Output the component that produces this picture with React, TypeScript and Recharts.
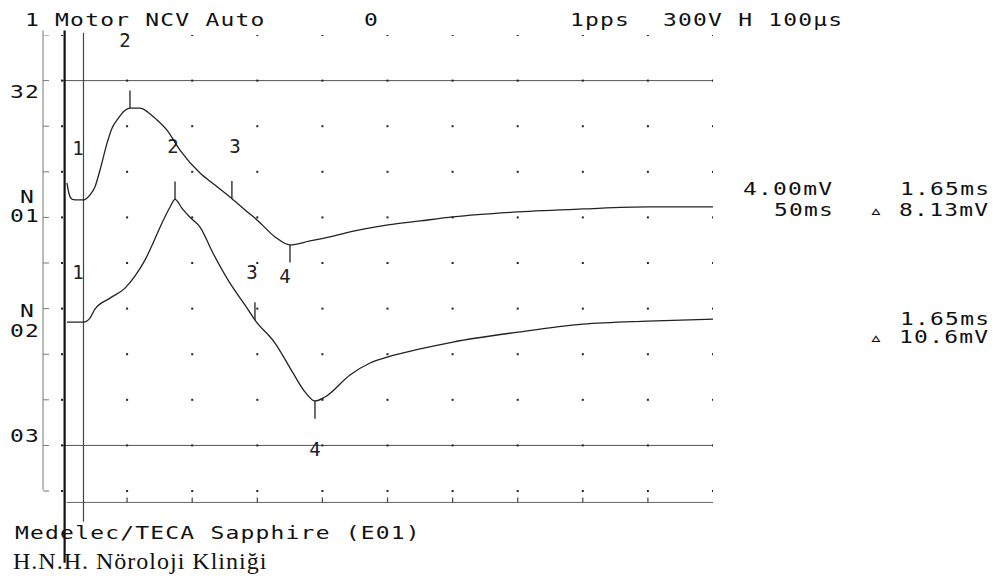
import React from "react";
import {
  ComposedChart,
  Line,
  Scatter,
  XAxis,
  YAxis,
  ReferenceLine,
  ReferenceDot,
} from "recharts";

// time in ms, amplitude in mV relative to each trace's baseline
const trace1Time = [
  0.38, 0.55, 0.8, 1.2, 1.65, 2.15, 2.53, 2.92, 3.46, 3.84, 4.22, 4.76, 5.22,
  5.99, 6.6, 7.14, 8.06, 9.06, 10.6, 11.75, 12.9, 14.06, 14.98, 16.36, 17.51,
  19.05, 20.58, 22.12, 25.04, 27.5, 30.03, 35.02, 40.0, 45.0, 50.0,
];
const trace1Amp = [
  1.5, 0.5, 0.05, 0, 0, 0.44, 1.14, 2.63, 4.99, 6.3, 7.0, 7.79, 8.05, 8.05, 7.7,
  7.18, 6.13, 4.38, 2.36, 1.31, 0.26, -0.88, -1.75, -3.24, -3.94, -3.59, -3.24,
  -2.8, -2.19, -1.84, -1.49, -1.05, -0.79, -0.61, -0.61,
];
const trace2Time = [
  0.38, 1.0, 1.65, 2.15, 2.53, 3.69, 4.84, 5.6, 6.37, 6.99, 7.53, 8.29, 8.68,
  9.22, 9.83, 10.6, 11.6, 12.9, 14.06, 14.82, 16.36, 17.74, 18.66, 19.43, 20.2,
  22.12, 23.66, 25.04, 27.5, 30.03, 35.02, 40.0, 45.0, 50.0,
];
const trace2Amp = [
  0, 0, 0, 0.35, 1.14, 2.1, 2.98, 4.03, 5.43, 6.92, 8.32, 10.07, 10.77, 9.98,
  9.19, 8.32, 6.04, 3.41, 1.49, 0.18, -1.84, -4.46, -6.13, -6.92, -6.57, -4.64,
  -3.59, -3.06, -2.36, -1.75, -0.88, -0.18, 0.09, 0.26,
];

// display offsets of the two traces (mV on the 4 mV/div screen)
const trace1Base = 25.53;
const trace2Base = 14.82;

// markers 1..4
const markerNames = ["1", "2", "3", "4"];
const trace1MarkerT = [1.65, 5.22, 13.05, 17.51];
const trace1MarkerDir = [0, 1, 1, -1];
const trace1LabelT = [1.23, 4.84, 13.29, 17.13];
const trace1LabelV = [30.1, 39.5, 30.2, 18.8];
const trace2MarkerT = [1.65, 8.68, 14.82, 19.43];
const trace2MarkerDir = [0, 1, 1, -1];
const trace2LabelT = [1.23, 8.53, 14.59, 19.43];
const trace2LabelV = [19.2, 30.2, 19.2, 3.7];

// screen graticule: 5 ms x 4 mV divisions
const gridRows = [0, 4, 8, 12, 16, 20, 24, 28, 32, 36, 40];
const gridCols = [0, 5, 10, 15, 20, 25, 30, 35, 40, 45, 50];
const axisTicks = [5, 10, 15, 20, 25, 30, 35, 40, 45];
const X_MIN = -1.46;
const Y_MIN = -1.05;
const AXIS_V = -1.0;

const MONO = "'DejaVu Sans Mono', monospace";
const INK = "#222";

function valueAt(times: number[], amps: number[], t: number) {
  for (let i = 1; i < times.length; i++) {
    if (t <= times[i]) {
      const f = (t - times[i - 1]) / (times[i] - times[i - 1]);
      return amps[i - 1] + f * (amps[i] - amps[i - 1]);
    }
  }
  return amps[amps.length - 1];
}

const toRows = (times: number[], amps: number[], base: number) =>
  times.map((t, i) => ({ t, v: amps[i] + base }));

function Txt({
  x,
  y,
  children,
}: {
  x: number;
  y: number;
  children: React.ReactNode;
}) {
  return (
    <div
      style={{
        position: "absolute",
        left: x,
        top: y - 7,
        fontFamily: MONO,
        fontSize: 17,
        lineHeight: "14px",
        letterSpacing: 0.9,
        color: "#111",
        whiteSpace: "pre",
        transform: "scaleX(1.35)",
        transformOrigin: "left center",
      }}
    >
      {children}
    </div>
  );
}

function markerElements(
  key: string,
  times: number[],
  amps: number[],
  base: number,
  markerT: number[],
  dir: number[],
  labelT: number[],
  labelV: number[]
) {
  const out: React.ReactNode[] = [];
  markerT.forEach((t, i) => {
    if (dir[i] !== 0) {
      const v = valueAt(times, amps, t) + base;
      out.push(
        <ReferenceLine
          key={`${key}-tick-${i}`}
          segment={[
            { x: t, y: v },
            { x: t, y: v + dir[i] * 1.55 },
          ]}
          stroke={INK}
          strokeWidth={1.3}
        />
      );
    }
    out.push(
      <ReferenceDot
        key={`${key}-lbl-${i}`}
        x={labelT[i]}
        y={labelV[i]}
        r={1}
        fill="none"
        stroke="none"
        label={{
          value: markerNames[i],
          position: "center",
          fill: INK,
          fontSize: 19,
          fontFamily: MONO,
        }}
      />
    );
  });
  return out;
}

const gridDot = (p: any) => (
  <rect x={p.cx - 1} y={p.cy - 1} width={2} height={2} fill={INK} />
);
const leftTick = (p: any) => (
  <line
    x1={p.cx}
    y1={p.cy}
    x2={p.cx + 6}
    y2={p.cy}
    stroke="#777"
    strokeWidth={1}
  />
);
const bottomTick = (p: any) => (
  <line
    x1={p.cx}
    y1={p.cy}
    x2={p.cx}
    y2={p.cy - 5}
    stroke="#444"
    strokeWidth={1.2}
  />
);

export default function App() {
  const t1 = toRows(trace1Time, trace1Amp, trace1Base);
  const t2 = toRows(trace2Time, trace2Amp, trace2Base);
  const dots = gridRows.flatMap((v) => gridCols.map((t) => ({ t, v })));
  const lticks = gridRows.map((v) => ({ t: X_MIN, v }));
  const bticks = axisTicks.map((t) => ({ t, v: AXIS_V }));

  return (
    <div
      style={{
        position: "absolute",
        left: 0,
        top: 0,
        width: 1001,
        height: 579,
        background: "#fff",
        overflow: "hidden",
      }}
    >
      <ComposedChart
        width={1001}
        height={579}
        margin={{ top: 35, right: 288, bottom: 76, left: 43 }}
      >
        <XAxis
          type="number"
          dataKey="t"
          domain={[X_MIN, 50]}
          allowDataOverflow
          hide
        />
        <YAxis
          type="number"
          dataKey="v"
          domain={[Y_MIN, 40]}
          allowDataOverflow
          hide
        />
        <Scatter
          data={dots}
          dataKey="v"
          shape={gridDot}
          isAnimationActive={false}
        />
        <Scatter
          data={lticks}
          dataKey="v"
          shape={leftTick}
          isAnimationActive={false}
        />
        <Scatter
          data={bticks}
          dataKey="v"
          shape={bottomTick}
          isAnimationActive={false}
        />
        <ReferenceLine
          segment={[
            { x: X_MIN, y: 40.4 },
            { x: X_MIN, y: 0.1 },
          ]}
          stroke="#777"
          ifOverflow="visible"
        />
        <ReferenceLine
          segment={[
            { x: 0, y: 36 },
            { x: 50, y: 36 },
          ]}
          stroke="#555"
        />
        <ReferenceLine
          segment={[
            { x: 0, y: 4 },
            { x: 50, y: 4 },
          ]}
          stroke="#555"
        />
        <ReferenceLine
          segment={[
            { x: 0.35, y: AXIS_V },
            { x: 50, y: AXIS_V },
          ]}
          stroke="#666"
          ifOverflow="visible"
        />
        <ReferenceLine
          segment={[
            { x: 0.2, y: 40.4 },
            { x: 0.2, y: -6.3 },
          ]}
          stroke="#111"
          strokeWidth={2.2}
          ifOverflow="visible"
        />
        <ReferenceLine
          segment={[
            { x: 1.65, y: 40.2 },
            { x: 1.65, y: -2.7 },
          ]}
          stroke="#444"
          strokeWidth={1.2}
          ifOverflow="visible"
        />
        <Line
          data={t1}
          dataKey="v"
          type="monotone"
          stroke={INK}
          strokeWidth={1.3}
          dot={false}
          isAnimationActive={false}
        />
        <Line
          data={t2}
          dataKey="v"
          type="monotone"
          stroke={INK}
          strokeWidth={1.3}
          dot={false}
          isAnimationActive={false}
        />
        {markerElements(
          "a",
          trace1Time,
          trace1Amp,
          trace1Base,
          trace1MarkerT,
          trace1MarkerDir,
          trace1LabelT,
          trace1LabelV
        )}
        {markerElements(
          "b",
          trace2Time,
          trace2Amp,
          trace2Base,
          trace2MarkerT,
          trace2MarkerDir,
          trace2LabelT,
          trace2LabelV
        )}
      </ComposedChart>

      <Txt x={25} y={20}>1 Motor NCV Auto</Txt>
      <Txt x={364} y={20}>0</Txt>
      <Txt x={570} y={20}>1pps</Txt>
      <Txt x={663} y={20}>300V H 100µs</Txt>

      <Txt x={10} y={92}>32</Txt>
      <Txt x={20} y={197}>N</Txt>
      <Txt x={10} y={216}>01</Txt>
      <Txt x={20} y={311}>N</Txt>
      <Txt x={10} y={331}>02</Txt>
      <Txt x={10} y={436}>03</Txt>

      <Txt x={743} y={189}>4.00mV</Txt>
      <Txt x={900} y={189}>1.65ms</Txt>
      <Txt x={774} y={210}>50ms</Txt>
      <Txt x={869} y={210}>▵ 8.13mV</Txt>
      <Txt x={900} y={319}>1.65ms</Txt>
      <Txt x={869} y={337}>▵ 10.6mV</Txt>

      <Txt x={15} y={533}>Medelec/TECA Sapphire (E01)</Txt>
      <div
        style={{
          position: "absolute",
          left: 13,
          top: 548,
          fontFamily: "'Liberation Serif', serif",
          fontSize: 24,
          lineHeight: "26px",
          letterSpacing: 1,
          color: "#111",
          whiteSpace: "pre",
        }}
      >
        H.N.H. Nöroloji Kliniği
      </div>
    </div>
  );
}
